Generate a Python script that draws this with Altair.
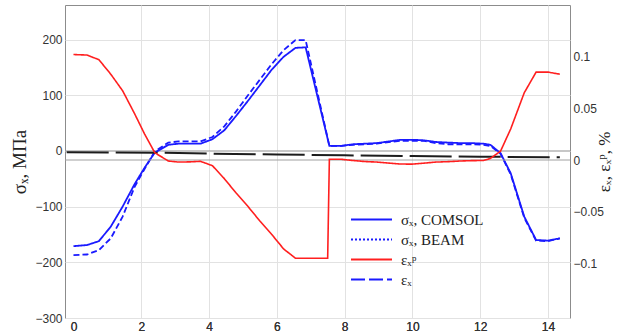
import altair as alt
import pandas as pd

# ---- data ----
X_SIG = [0.0, 0.4, 0.75, 1.1, 1.45, 1.8, 2.1, 2.4, 2.8, 3.1, 3.45, 3.75, 4.1, 4.45,
         4.8, 5.15, 5.5, 5.85, 6.2, 6.55, 6.85, 7.55, 7.9, 8.25, 8.6, 8.95, 9.3, 9.65,
         10.0, 10.35, 10.7, 11.05, 11.4, 11.75, 12.1, 12.3, 12.6, 12.9, 13.3, 13.65,
         14.0, 14.35]
SIG_COMSOL = [-171, -169, -162, -136, -100, -60, -30, -3, 11, 13, 13, 13, 21, 37,
              63, 90, 118, 146, 169, 185, 186, 9, 9, 12, 13, 14, 17, 20,
              20, 19, 16, 15, 14, 14, 13, 11, -4, -40, -118, -160,
              -161, -157]
SIG_BEAM = [-187, -186, -178, -157, -118, -65, -32, -1, 15, 17, 17, 17, 25, 44,
            71, 100, 128, 156, 181, 199, 199, 9, 9, 11, 12, 13, 16, 18,
            18, 18, 14, 12, 12, 12, 11, 9, -5, -42, -120, -161,
            -162, -157]

X_EPS_P = [0.0, 0.4, 0.75, 1.1, 1.45, 1.8, 2.1, 2.4, 2.8, 3.1, 3.45, 3.75, 4.1, 4.45,
           4.8, 5.15, 5.5, 5.85, 6.2, 6.55, 6.85, 7.5, 7.55, 7.9, 8.25, 8.6, 8.95, 9.3,
           9.65, 10.0, 10.35, 10.7, 11.05, 11.4, 11.75, 12.1, 12.3, 12.6, 12.9, 13.3,
           13.65, 14.0, 14.35]
EPS_P = [0.102, 0.1015, 0.097, 0.083, 0.067, 0.045, 0.025, 0.007, -0.001, -0.002,
         -0.0018, -0.0013, -0.0055, -0.018, -0.032, -0.045, -0.059, -0.072, -0.086,
         -0.095, -0.095, -0.095, 0.0007, 0.0007, -0.0005, -0.0015, -0.002, -0.003,
         -0.0039, -0.004, -0.003, -0.002, -0.0016, -0.001, -0.0006, -0.0005, 0.0015,
         0.0085, 0.03, 0.065, 0.085, 0.085, 0.083]

X_EPS = [-0.2, 2.4, 4.0, 6.0, 8.0, 10.0, 12.0, 14.35]
EPS = [0.0076, 0.0071, 0.0062, 0.0053, 0.0045, 0.0038, 0.0032, 0.0026]

NAMES = ["σₓ, COMSOL", "σₓ, BEAM", "εₓᵖ", "εₓ"]
X_TICKS = [0, 2, 4, 6, 8, 10, 12, 14]
X_GRID = [2, 4, 6, 8, 10, 12, 14]
SIG_TICKS = [-300, -200, -100, 0, 100, 200]
EPS_TICKS = [-0.1, -0.05, 0, 0.05, 0.1]
ZERO = [0]

BLUE = "#1a1aff"
RED = "#ff1f1f"
GRID = "#e2e2e2"
AXISLINE = "#a0a0a0"
SANS = "Liberation Sans"
SERIF = "Liberation Serif"

df_comsol = pd.DataFrame({"x": X_SIG, "v": SIG_COMSOL, "series": NAMES[0]})
df_beam = pd.DataFrame({"x": X_SIG, "v": SIG_BEAM})
df_epsp = pd.DataFrame({"x": X_EPS_P, "v": EPS_P, "series": NAMES[2]})
df_eps = pd.DataFrame({"x": X_EPS, "v": EPS})
df_zero = pd.DataFrame({"v": ZERO})

xscale = alt.Scale(domain=[-0.25, 14.65], nice=False, zero=False)
sig_scale = alt.Scale(domain=[-300, 262], nice=False, zero=False)
eps_scale = alt.Scale(domain=[-0.1528, 0.1499], nice=False, zero=False)
color_scale = alt.Scale(domain=NAMES, range=[BLUE, BLUE, RED, BLUE])
dash_scale = alt.Scale(domain=NAMES, range=[[1, 0], [2, 2], [1, 0], [14, 4]])

legend = alt.Legend(
    title=None, orient="none", legendX=295, legendY=203,
    symbolType="M-2,0L2,0", symbolSize=420, symbolStrokeWidth=2,
    labelFont=SERIF, labelFontSize=15, labelColor="#222222",
    padding=0, labelOffset=18, rowPadding=0,
)

x_bottom = alt.X("x:Q", scale=xscale, axis=alt.Axis(
    orient="bottom", values=X_TICKS, grid=False, ticks=False, domain=False,
    labelFont=SANS, labelFontSize=12, labelColor="#333333", labelPadding=3,
    title=None))
x_top = alt.X("x:Q", scale=xscale, axis=alt.Axis(
    orient="top", values=X_GRID, grid=True, gridColor=GRID, labels=False,
    ticks=False, domain=False, title=None))

y_sig = alt.Y("v:Q", scale=sig_scale, axis=alt.Axis(
    orient="left", values=SIG_TICKS, grid=True, gridColor=GRID, ticks=False,
    domain=False, format="d", labelFont=SANS, labelFontSize=12,
    labelColor="#333333", labelPadding=3, title="σₓ, МПа", titleFont=SERIF,
    titleFontSize=19, titleFontWeight="normal", titleColor="#222222",
    titlePadding=5))

y_eps = alt.Y("v:Q", scale=eps_scale, axis=alt.Axis(
    orient="right", values=EPS_TICKS, grid=False, ticks=False, domain=False,
    format="~g", labelFont=SANS, labelFontSize=12, labelColor="#333333",
    labelPadding=3, title="εₓ, εₓᵖ, %", titleFont=SERIF, titleFontSize=17,
    titleFontWeight="normal", titleColor="#222222", titleAngle=270,
    titlePadding=10))

sig_zero = alt.Chart(df_zero).mark_rule(color=AXISLINE, strokeWidth=1).encode(y=y_sig)
beam = alt.Chart(df_beam).mark_line(color=BLUE, strokeDash=[6, 3], strokeWidth=1.8).encode(
    x=x_top, y=y_sig)
comsol = alt.Chart(df_comsol).mark_line(strokeWidth=1.8).encode(
    x=x_bottom, y=y_sig,
    color=alt.Color("series:N", scale=color_scale, legend=legend),
    strokeDash=alt.StrokeDash("series:N", scale=dash_scale, legend=legend),
)
sigma = alt.layer(sig_zero, beam, comsol)

eps_zero = alt.Chart(df_zero).mark_rule(color=AXISLINE, strokeWidth=1).encode(y=y_eps)
eps_line = alt.Chart(df_eps).mark_line(color="#1c1c1c", strokeDash=[42, 7], strokeWidth=2).encode(
    x=x_bottom, y=y_eps)
epsp = alt.Chart(df_epsp).mark_line(strokeWidth=1.6).encode(
    x=x_bottom, y=y_eps,
    color=alt.Color("series:N", scale=color_scale, legend=legend),
    strokeDash=alt.StrokeDash("series:N", scale=dash_scale, legend=legend),
)
eps = alt.layer(eps_zero, eps_line, epsp)

chart = alt.layer(sigma, eps).resolve_scale(y="independent").properties(
    width=505, height=313,
    padding={"left": 65, "top": 5, "right": 51, "bottom": 14},
    autosize=alt.AutoSizeParams(type="none"),
    background="white",
).configure_view(stroke="#8c8c8c", strokeWidth=1)

chart.save("out.html", embed_options={"renderer": "svg", "actions": False})
